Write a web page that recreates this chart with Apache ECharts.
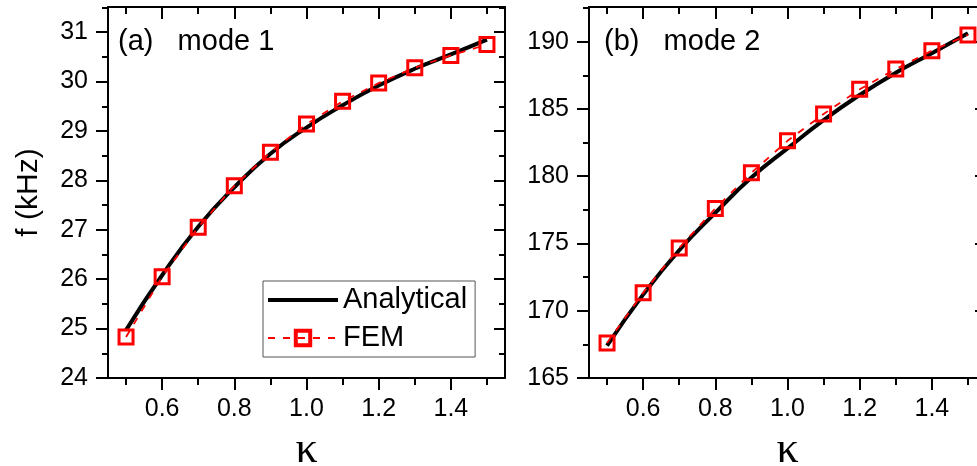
<!DOCTYPE html>
<html><head><meta charset="utf-8">
<script src="https://cdn.jsdelivr.net/npm/echarts@6/dist/echarts.min.js"></script>
<style>html,body{margin:0;padding:0;background:#fff}#c{width:977px;height:466px}</style>
</head><body><div id="c"></div>
<script>
const kappa = [0.5, 0.6, 0.7, 0.8, 0.9, 1.0, 1.1, 1.2, 1.3, 1.4, 1.5];
const analyticalA = [24.97, 26.08, 27.06, 27.86, 28.54, 29.07, 29.52, 29.92, 30.26, 30.55, 30.85];
const femA = [24.83, 26.05, 27.05, 27.89, 28.57, 29.14, 29.60, 29.97, 30.28, 30.53, 30.75];
const analyticalB = [167.4, 171.2, 174.5, 177.28, 179.9, 182.07, 184.17, 186.04, 187.69, 189.14, 190.62];
const femB = [167.6, 171.33, 174.67, 177.6, 180.25, 182.63, 184.62, 186.46, 187.97, 189.33, 190.5];
const xMajor = [0.6, 0.8, 1.0, 1.2, 1.4];
const xMinor = [0.5, 0.7, 0.9, 1.1, 1.3, 1.5];
const yMajorA = [24, 25, 26, 27, 28, 29, 30, 31];
const yMinorA = [24.5, 25.5, 26.5, 27.5, 28.5, 29.5, 30.5, 31.5];
const yMajorB = [165, 170, 175, 180, 185, 190];
const yMinorB = [167.5, 172.5, 177.5, 182.5, 187.5, 192.5];
const panelLabels = ['(a)   mode 1', '(b)   mode 2'];
const seriesNames = ['Analytical', 'FEM'];

const SANS = '"Liberation Sans", Arial, sans-serif';
const SERIF = '"Liberation Serif", "Times New Roman", serif';
const LINE = { color: '#000', width: 2 };

function xAxes(g) {
  const base = { gridIndex: g, type: 'value', min: 0.45, max: 1.55, splitLine: { show: false } };
  return [
    Object.assign({}, base, {
      position: 'bottom',
      axisLine: { show: true, lineStyle: LINE },
      axisTick: { show: true, customValues: xMajor, length: 12, inside: false, lineStyle: LINE },
      axisLabel: { show: true, customValues: xMajor, margin: 19, fontSize: 25, color: '#000', fontFamily: SANS,
        formatter: v => Number(v).toFixed(1) },
      name: 'κ', nameLocation: 'middle', nameGap: 50,
      nameTextStyle: { fontFamily: SERIF, fontSize: 44, color: '#000', lineHeight: 44 }
    }),
    Object.assign({}, base, {
      position: 'bottom',
      axisLine: { show: false },
      axisTick: { show: true, customValues: xMinor, length: 7, inside: false, lineStyle: LINE },
      axisLabel: { show: false }
    }),
    Object.assign({}, base, {
      position: 'top',
      axisLine: { show: true, lineStyle: LINE },
      axisTick: { show: true, customValues: xMajor, length: 12, inside: true, lineStyle: LINE },
      axisLabel: { show: false }
    }),
    Object.assign({}, base, {
      position: 'top',
      axisLine: { show: false },
      axisTick: { show: true, customValues: xMinor, length: 7, inside: true, lineStyle: LINE },
      axisLabel: { show: false }
    })
  ];
}

function yAxes(g, min, max, major, minor, withName) {
  const base = { gridIndex: g, type: 'value', min: min, max: max, splitLine: { show: false } };
  const main = Object.assign({}, base, {
    position: 'left',
    axisLine: { show: true, lineStyle: LINE },
    axisTick: { show: true, customValues: major, length: 12, inside: false, lineStyle: LINE },
    axisLabel: { show: true, customValues: major, margin: 20, fontSize: 25, color: '#000', fontFamily: SANS }
  });
  if (withName) {
    Object.assign(main, {
      name: 'f (kHz)', nameLocation: 'middle', nameGap: 64, nameRotate: 90,
      nameTextStyle: { fontFamily: SANS, fontSize: 30, color: '#000', lineHeight: 30 }
    });
  }
  return [
    main,
    Object.assign({}, base, {
      position: 'left',
      axisLine: { show: false },
      axisTick: { show: true, customValues: minor, length: 6, inside: false, lineStyle: LINE },
      axisLabel: { show: false }
    }),
    Object.assign({}, base, {
      position: 'right',
      axisLine: { show: true, lineStyle: LINE },
      axisTick: { show: true, customValues: major, length: 11, inside: true, lineStyle: LINE },
      axisLabel: { show: false }
    }),
    Object.assign({}, base, {
      position: 'right',
      axisLine: { show: false },
      axisTick: { show: true, customValues: minor, length: 6, inside: true, lineStyle: LINE },
      axisLabel: { show: false }
    })
  ];
}

function pairs(ys) { return kappa.map((k, i) => [k, ys[i]]); }

function panelSeries(g, analytical, fem) {
  return [
    {
      name: seriesNames[0], type: 'line', xAxisIndex: g * 4, yAxisIndex: g * 4,
      data: pairs(analytical), smooth: true, symbol: 'none', showSymbol: false,
      lineStyle: { color: '#000', width: 4 }, itemStyle: { color: '#000' }, z: 2
    },
    {
      name: seriesNames[1], type: 'line', xAxisIndex: g * 4, yAxisIndex: g * 4,
      data: pairs(fem), symbol: 'rect', symbolSize: 14, showSymbol: true,
      lineStyle: { color: '#ff0000', width: 1.8, type: [7, 8] },
      itemStyle: { color: 'rgba(255,255,255,0)', borderColor: '#ff0000', borderWidth: 3 }, z: 3
    }
  ];
}

const chart = echarts.init(document.getElementById('c'), null, { renderer: 'canvas' });
chart.setOption({
  animation: false,
  backgroundColor: '#fff',
  title: [
    { text: panelLabels[0], left: 118, top: 27, padding: 0,
      textStyle: { fontSize: 29, fontWeight: 'normal', color: '#000', fontFamily: SANS } },
    { text: panelLabels[1], left: 604, top: 27, padding: 0,
      textStyle: { fontSize: 29, fontWeight: 'normal', color: '#000', fontFamily: SANS } }
  ],
  legend: {
    orient: 'vertical', left: 263, top: 281, selectedMode: false,
    data: [
      { name: seriesNames[0], itemStyle: { color: 'rgba(0,0,0,0)', borderWidth: 0, opacity: 0 } },
      { name: seriesNames[1], itemStyle: { borderWidth: 4, borderColor: '#ff0000', color: 'rgba(255,255,255,0)' } }
    ],
    itemWidth: 70, itemHeight: 18, itemGap: 8, padding: [4, 8, 4, 3],
    lineStyle: { width: 'inherit' },
    borderColor: '#555', borderWidth: 1, backgroundColor: '#fff',
    textStyle: { fontSize: 29, color: '#000', fontFamily: SANS, lineHeight: 30 }
  },
  grid: [
    { left: 108, top: 7, width: 397, height: 371, outerBoundsMode: 'none', containLabel: false },
    { left: 589, top: 7, width: 397, height: 371, outerBoundsMode: 'none', containLabel: false }
  ],
  xAxis: xAxes(0).concat(xAxes(1)),
  yAxis: yAxes(0, 24, 31.51, yMajorA, yMinorA, true).concat(yAxes(1, 165, 192.58, yMajorB, yMinorB, false)),
  series: panelSeries(0, analyticalA, femA).concat(panelSeries(1, analyticalB, femB))
});
</script></body></html>
